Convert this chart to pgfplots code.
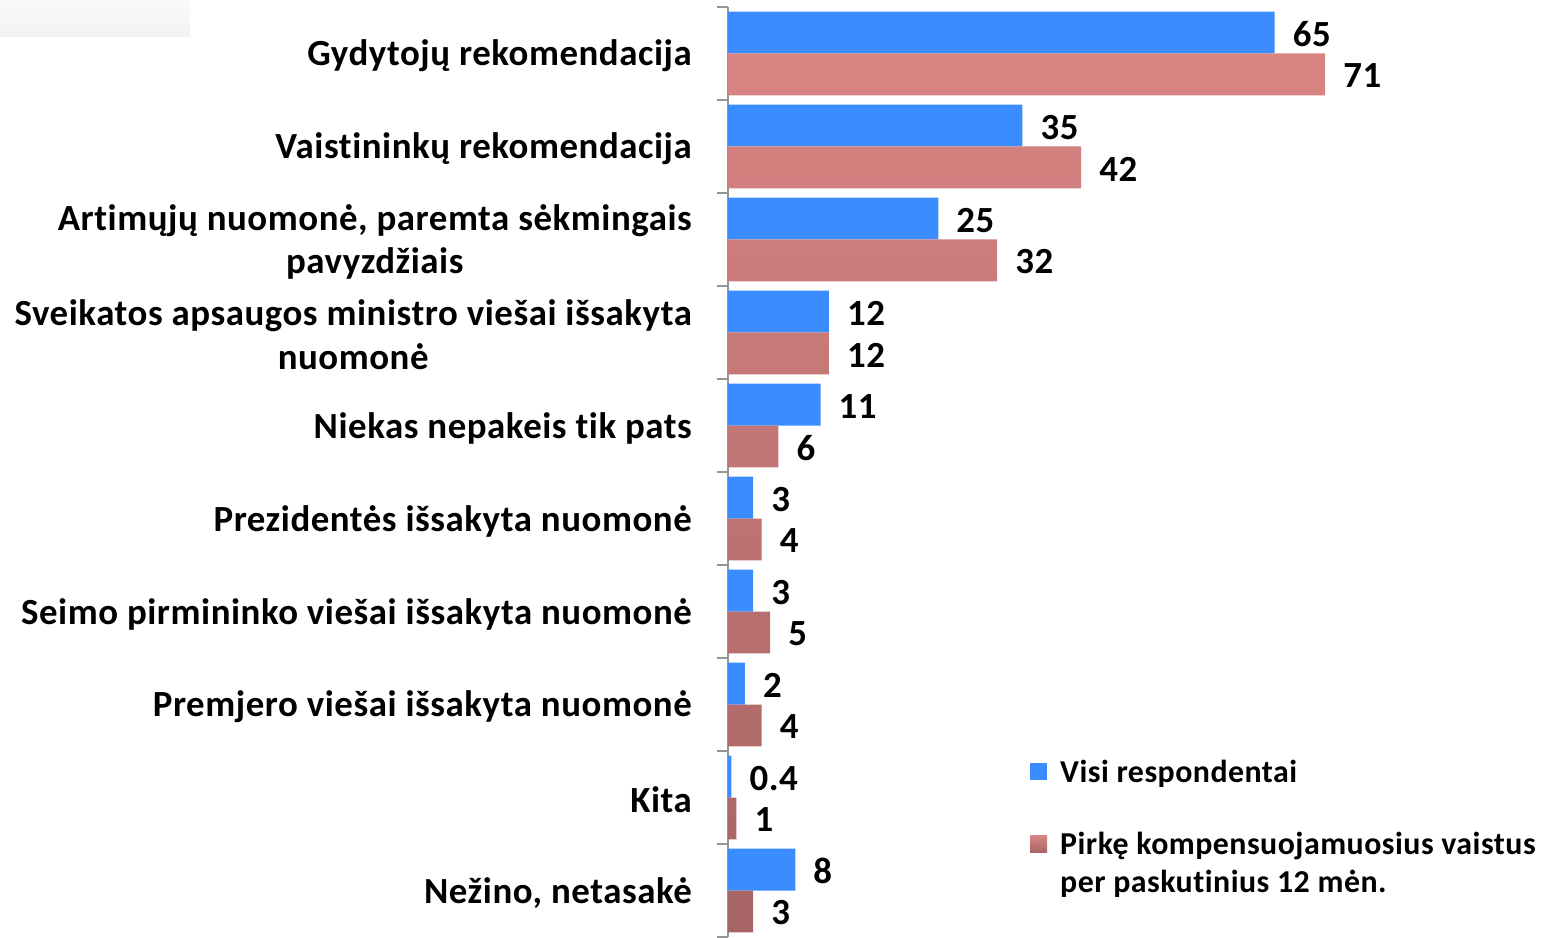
\documentclass[border=0pt]{standalone}
\usepackage{fontspec}
\setmainfont{Carlito}[LetterSpace=1.5, Ligatures=NoCommon]
\usepackage{pgfplots}
\pgfplotsset{compat=1.18}
\definecolor{bblue}{RGB}{58,140,255}
\definecolor{rtop}{RGB}{216,132,130}
\definecolor{rbot}{RGB}{166,100,100}
\definecolor{axgray}{RGB}{150,150,150}
\newcommand{\cf}{\fontsize{37}{44}\selectfont\bfseries}
\newcommand{\lf}{\fontsize{32}{38}\selectfont\bfseries}
\pgfplotsset{
  blueimg/.style={legend image code/.code={\fill[##1] (0bp,-8.5bp) rectangle (17bp,8.5bp);}},
  redimg/.style={legend image code/.code={\fill[##1] (0bp,10.5bp) rectangle (17bp,27.5bp);}},
}
\begin{document}
\begin{tikzpicture}[x=1bp,y=1bp]
\fill[top color=white!98!black, bottom color=white!95!black] (0,900) rectangle (190,937);
\begin{axis}[
  at={(728bp,0bp)}, anchor=south west,
  scale only axis, width=822bp, height=930bp,
  xbar, xmin=0, xmax=97.74,
  ymin=-0.5, ymax=9.5, y dir=reverse,
  axis x line=none, axis y line*=left,
  y axis line style={axgray, line width=2bp, -},
  ytick={0,...,9},
  minor ytick={-0.5,0.5,...,9.5},
  major tick length=0pt, minor tick length=11bp,
  tick align=outside,
  minor tick style={axgray, line width=2bp},
  yticklabels={
    {Gydytojų rekomendacija},
    {Vaistininkų rekomendacija},
    {Artimųjų nuomonė, paremta sėkmingais\\pavyzdžiais},
    {Sveikatos apsaugos ministro viešai išsakyta\\nuomonė},
    {Niekas nepakeis tik pats},
    {Prezidentės išsakyta nuomonė},
    {Seimo pirmininko viešai išsakyta nuomonė},
    {Premjero viešai išsakyta nuomonė},
    {Kita},
    {Nežino, netasakė}},
  yticklabel style={font=\cf, align=center, inner sep=0pt, xshift=-36bp, yshift=-2.5bp},
  /pgf/number format/assume math mode=true,
  bar width=0.45,
  nodes near coords,
  every node near coord/.append style={font=\cf, inner sep=0pt, xshift=18bp, yshift=-1.5bp, black},
  legend style={at={(0.3674,0.193)}, anchor=north west, draw=none, fill=none,
    font=\lf, cells={align=left}, row sep=45bp, column sep=11bp, inner sep=0pt},
  legend cell align=left,
]
\addplot[bar shift=-0.225, fill=bblue, draw=none, blueimg] coordinates {
  (65,0) (35,1) (25,2) (12,3) (11,4) (3,5) (3,6) (2,7) (0.4,8) (8,9)};
\addlegendentry{Visi respondentai}
\addplot[bar shift=0.225, top color=rtop, bottom color=rbot, draw=none, redimg] coordinates {
  (71,0) (42,1) (32,2) (12,3) (6,4) (4,5) (5,6) (4,7) (1,8) (3,9)};
\addlegendentry{Pirkę kompensuojamuosius vaistus\\per paskutinius 12 mėn.}
\end{axis}
\pgfresetboundingbox
\path[use as bounding box] (0,0) rectangle (1550,937);
\end{tikzpicture}
\end{document}
